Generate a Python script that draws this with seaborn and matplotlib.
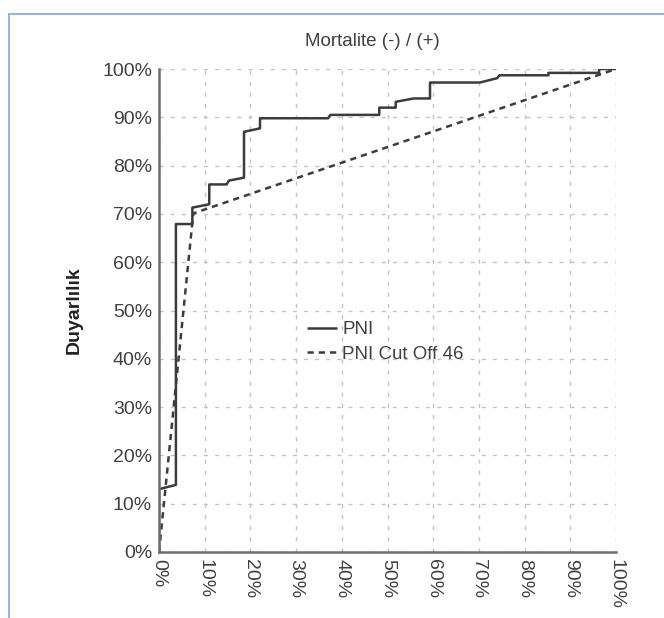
import pandas as pd
from matplotlib import pyplot as plt
from matplotlib.patches import Rectangle
import seaborn as sns

# ROC points (percent)
pni_fpr = [0, 0, 3.7, 3.7, 7.3, 7.3, 11, 11, 14.8, 15.3, 18.6, 18.6, 22.1, 22.1,
           37, 37.5, 48.2, 48.2, 51.8, 51.8, 55.7, 59.3, 59.3, 70.2, 74, 74.5,
           85.2, 85.2, 96.3, 96.3, 100]
pni_tpr = [0, 13, 13.9, 67.9, 67.9, 71.3, 72, 76.1, 76.1, 76.9, 77.5, 87, 87.7, 89.8,
           89.8, 90.5, 90.5, 92, 92, 93.2, 93.9, 93.9, 97.2, 97.2, 98.1, 98.7,
           98.7, 99.2, 99.2, 100, 100]
cut_fpr = [0, 7.5, 100]
cut_tpr = [0, 70.1, 100]
ticks = list(range(0, 101, 10))
tick_labels = [f'{t}%' for t in ticks]

df = pd.concat([
    pd.DataFrame({'fpr': pni_fpr, 'tpr': pni_tpr, 'curve': 'PNI'}),
    pd.DataFrame({'fpr': cut_fpr, 'tpr': cut_tpr, 'curve': 'PNI Cut Off 46'}),
], ignore_index=True)

sns.set_theme(style='white')
plt.rcParams['font.family'] = ['Liberation Sans', 'DejaVu Sans']

W, H = 664, 618
fig = plt.figure(figsize=(W / 100, H / 100), dpi=100)
ax = fig.add_axes([159 / W, 1 - 552 / H, 457 / W, 483 / H])

# light blue outer frame
fig.patches.append(Rectangle((9 / W, -0.1), 1.2, 1 - 14 / H + 0.1, transform=fig.transFigure,
                             fill=False, edgecolor='#7fa7d6', lw=1.2))

sns.lineplot(data=df, x='fpr', y='tpr', hue='curve', style='curve',
             palette=['#3c3c3c', '#3c3c3c'], dashes=[(1, 0), (2.5, 2)],
             estimator=None, sort=False, linewidth=1.8, ax=ax)

ax.set_xlim(0, 100)
ax.set_ylim(0, 100)
ax.set_xticks(ticks)
ax.set_yticks(ticks)
ax.set_xticklabels(tick_labels, rotation=270, ha='center', va='top')
ax.set_yticklabels(tick_labels)
ax.tick_params(axis='both', length=0, labelsize=14, colors='#404040')
ax.tick_params(axis='x', pad=5)
ax.tick_params(axis='y', pad=5)
ax.grid(True, color='#c4c4c4', linestyle=(0, (3, 5)), linewidth=1)
ax.set_axisbelow(True)
for s in ['top', 'right']:
    ax.spines[s].set_visible(False)
for s in ['left', 'bottom']:
    ax.spines[s].set_color('#6e6e6e')
    ax.spines[s].set_linewidth(1.8)
ax.set_xlabel('')
ax.set_ylabel('')

leg = ax.legend(loc='upper left', bbox_to_anchor=(307 / W, 1 - 321 / H),
                bbox_transform=fig.transFigure, frameon=False, fontsize=13.5,
                borderpad=0, borderaxespad=0, handlelength=1.6,
                handletextpad=0.27, labelspacing=0.4)
for t in leg.get_texts():
    t.set_color('#404040')

fig.text(372 / W, 1 - 42 / H, 'Mortalite (-) / (+)', ha='center', va='center',
         fontsize=13.5, color='#404040')
fig.text(74 / W, 1 - 310 / H, 'Duyarlılık', ha='center', va='center',
         rotation=90, fontsize=14, fontweight='bold', color='#222222')

fig.savefig('out.png', dpi=100)
